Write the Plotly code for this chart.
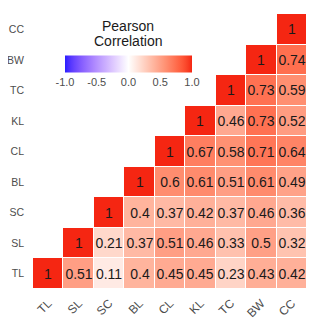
import numpy as np
import plotly.graph_objects as go

# ============================================================
# DATA
# ============================================================
labels = ["TL", "SL", "SC", "BL", "CL", "KL", "TC", "BW", "CC"]

# one list per row (y label), values for x columns from the diagonal onwards
row_TL = [1, 0.51, 0.11, 0.4, 0.45, 0.45, 0.23, 0.43, 0.42]
row_SL = [1, 0.21, 0.37, 0.51, 0.46, 0.33, 0.5, 0.32]
row_SC = [1, 0.4, 0.37, 0.42, 0.37, 0.46, 0.36]
row_BL = [1, 0.6, 0.61, 0.51, 0.61, 0.49]
row_CL = [1, 0.67, 0.58, 0.71, 0.64]
row_KL = [1, 0.46, 0.73, 0.52]
row_TC = [1, 0.73, 0.59]
row_BW = [1, 0.74]
row_CC = [1]

rows = [row_TL, row_SL, row_SC, row_BL, row_CL, row_KL, row_TC, row_BW, row_CC]

colorbar_ticks = [-1.0, -0.5, 0.0, 0.5, 1.0]
colorbar_ticktext = ["-1.0", "-0.5", "0.0", "0.5", "1.0"]


# ============================================================
# COLOUR HELPERS (ggplot-style gradient2, interpolated in Lab)
# ============================================================
def srgb_to_lab(rgb):
    c = np.array(rgb, dtype=float) / 255.0
    c = np.where(c > 0.04045, ((c + 0.055) / 1.055) ** 2.4, c / 12.92)
    m = np.array([[0.4124, 0.3576, 0.1805],
                  [0.2126, 0.7152, 0.0722],
                  [0.0193, 0.1192, 0.9505]])
    xyz = m @ c / np.array([0.95047, 1.0, 1.08883])
    f = np.where(xyz > 0.008856, np.cbrt(xyz), 7.787 * xyz + 16 / 116)
    return np.array([116 * f[1] - 16, 500 * (f[0] - f[1]), 200 * (f[1] - f[2])])


def lab_to_srgb(lab):
    L, a, b = lab
    fy = (L + 16) / 116
    fx = fy + a / 500
    fz = fy - b / 200
    f = np.array([fx, fy, fz])
    xyz = np.where(f ** 3 > 0.008856, f ** 3, (f - 16 / 116) / 7.787)
    xyz = xyz * np.array([0.95047, 1.0, 1.08883])
    m = np.array([[3.2406, -1.5372, -0.4986],
                  [-0.9689, 1.8758, 0.0415],
                  [0.0557, -0.2040, 1.0570]])
    c = m @ xyz
    c = np.where(c > 0.0031308, 1.055 * np.abs(c) ** (1 / 2.4) - 0.055, 12.92 * c)
    c = np.clip(c, 0, 1)
    return tuple(int(round(255 * v)) for v in c)


def make_colorscale(n=41):
    low = srgb_to_lab((40, 30, 255))
    mid = srgb_to_lab((255, 255, 255))
    high = srgb_to_lab((245, 38, 18))
    scale = []
    for t in np.linspace(0, 1, n):
        if t <= 0.5:
            lab = low + (mid - low) * (t / 0.5)
        else:
            lab = mid + (high - mid) * ((t - 0.5) / 0.5)
        scale.append([float(t), "rgb(%d,%d,%d)" % lab_to_srgb(lab)])
    return scale


# ============================================================
# BUILD MATRIX
# ============================================================
n = len(labels)
z = [[None] * n for _ in range(n)]
text = [[""] * n for _ in range(n)]
for i, row in enumerate(rows):
    for k, v in enumerate(row):
        j = i + k
        z[i][j] = v
        text[i][j] = ("%g" % v)

FONT = "Liberation Sans, Arial, sans-serif"

# the page body adds an 8px offset, so the figure is drawn 8px smaller
W, H = 312, 326
PLOT_TOP, PLOT_BOTTOM = 14.3, 289.0  # screen px of plot area


def paper_y(screen_y):
    return (PLOT_BOTTOM - screen_y) / (PLOT_BOTTOM - PLOT_TOP)


fig = go.Figure(
    go.Heatmap(
        x=labels,
        y=labels,
        z=z,
        text=text,
        texttemplate="%{text}",
        textfont=dict(size=14, color="#1a1a1a", family=FONT),
        colorscale=make_colorscale(),
        zmin=-1, zmax=1,
        xgap=1, ygap=1,
        hoverongaps=False,
        colorbar=dict(
            orientation="h",
            x=0.3485, xanchor="center",
            y=paper_y(70.5), yanchor="middle",
            lenmode="pixels", len=127,
            thickness=17,
            xpad=0, ypad=0,
            outlinewidth=0,
            tickvals=colorbar_ticks,
            ticktext=colorbar_ticktext,
            ticks="",
            tickfont=dict(size=11, color="#4d4d4d", family=FONT),
        ),
    )
)

#colorbar title, two lines set close together
for line, ys in [("Pearson", 26.5), ("Correlation", 41.0)]:
    fig.add_annotation(
        x=0.3485, y=paper_y(ys),
        xref="paper", yref="paper",
        text=line,
        showarrow=False,
        font=dict(size=14, color="#1a1a1a", family=FONT),
        yanchor="middle",
    )

fig.update_layout(
    width=W, height=H,
    margin=dict(l=25, r=13, t=6, b=45),
    plot_bgcolor="white",
    paper_bgcolor="white",
    font=dict(family=FONT),
)
fig.update_xaxes(
    automargin=False,
    showgrid=False, zeroline=False, showline=False,
    tickangle=-45,
    tickfont=dict(size=12, color="#4d4d4d"),
    ticklabelstandoff=4,
)
fig.update_yaxes(
    automargin=False,
    showgrid=False, zeroline=False, showline=False,
    tickfont=dict(size=10.5, color="#4d4d4d"),
    ticklabelstandoff=8,
)

fig.write_html("out.html")
